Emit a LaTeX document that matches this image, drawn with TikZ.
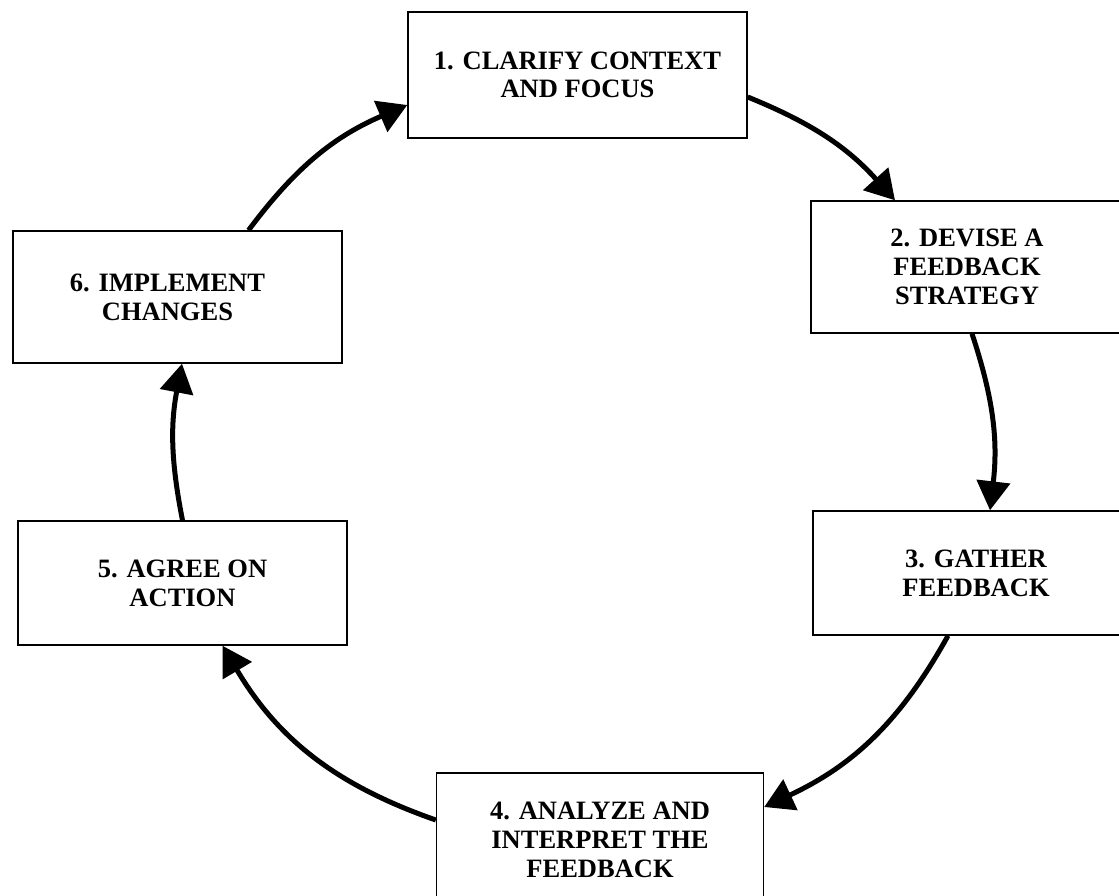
\documentclass[tikz,border=0pt]{standalone}
\usepackage{fontspec}
\setmainfont{Liberation Serif}
\usetikzlibrary{arrows.meta}
\begin{document}
\begin{tikzpicture}[x=1pt,y=-1pt,
  box/.style={draw, line width=1.4pt, align=center, inner sep=0pt, fill=white,
    font=\fontsize{26.5}{28.7}\selectfont\bfseries},
  flow/.style={line width=5pt, -{Triangle[length=29pt,width=33pt]}}]
\path[use as bounding box] (0,0) rectangle (1119,895);
\clip (0,0) rectangle (1119,895);
\node[box, minimum width=339pt, minimum height=126pt] (b1) at (577.5,75) {1. CLARIFY CONTEXT\\AND FOCUS};
\node[box, minimum width=312pt, minimum height=132pt] (b2) at (967,267) {2. DEVISE A\\FEEDBACK\\STRATEGY};
\node[box, minimum width=326pt, minimum height=124pt] (b3) at (976,573) {3. GATHER\\FEEDBACK};
\node[box, minimum width=327pt, minimum height=134pt] (b4) at (600,840) {4. ANALYZE AND\\INTERPRET THE\\FEEDBACK};
\node[box, minimum width=329pt, minimum height=124pt] (b5) at (182.5,583) {5. AGREE ON\\ACTION};
\node[box, minimum width=329pt, minimum height=132pt] (b6) at (177.5,297) {6. IMPLEMENT\hspace*{20pt}\\CHANGES\hspace*{20pt}};
\draw[flow] ([yshift=-22pt]b1.east) to[bend left=13] ([xshift=-72pt]b2.north);
\draw[flow] ([xshift=5pt]b2.south) to[bend left=12.5] ([xshift=14pt]b3.north);
\draw[flow] ([xshift=-28pt]b3.south) to[bend left=18] ([yshift=33pt]b4.east);
\draw[flow] ([yshift=20pt]b4.west) to[bend left=20] ([xshift=40pt]b5.south);
\draw[flow] (b5.north) to[bend left=11] ([xshift=4.5pt]b6.south);
\draw[flow] ([xshift=71pt]b6.north) to[bend left=15] ([yshift=-30pt]b1.west);
\end{tikzpicture}
\end{document}
